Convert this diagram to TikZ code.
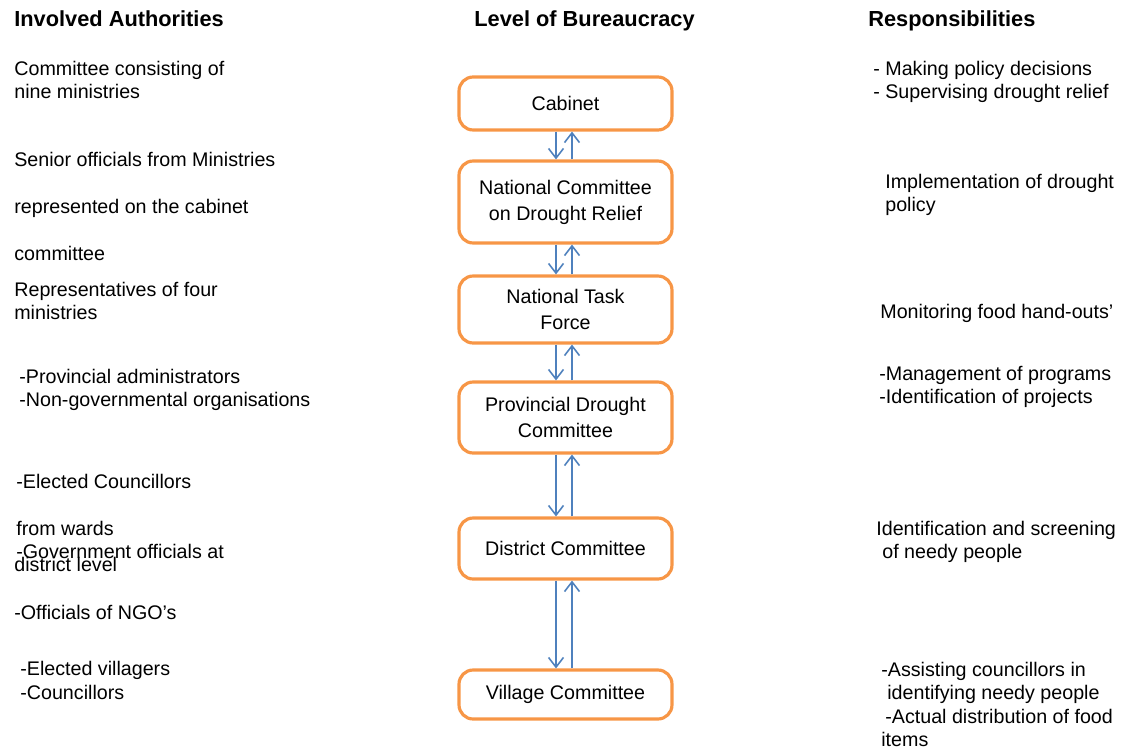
\documentclass[tikz,border=0pt]{standalone}
\usepackage{fontspec}
\setmainfont{Liberation Sans}
\usetikzlibrary{arrows.meta}
\definecolor{boxorange}{HTML}{F79646}
\definecolor{linkblue}{HTML}{4F81BD}
\begin{document}
\begin{tikzpicture}[x=0.02cm,y=-0.02cm,
  every node/.style={font=\fontsize{11.2pt}{13.2pt}\selectfont},
  head/.style={anchor=base west,inner sep=0pt,font=\fontsize{12.4pt}{14pt}\selectfont\bfseries},
  txt/.style={anchor=base west,inner sep=0pt},
  level/.style={draw=boxorange,line width=1.8pt,rounded corners=8pt,
    minimum width=4.26cm,align=center,
    font=\fontsize{11.2pt}{14.7pt}\selectfont},
  link/.style={draw=linkblue,line width=0.9pt,
    -{Straight Barb[length=5.5pt,width=8.5pt,line width=0.9pt]}}]
\useasboundingbox (0,0) rectangle (1122,750);

% column headings
\node[head] (hA) at (14,27) {Involved Authorities};
\node[head] (hB) at (474,27) {Level of Bureaucracy};
\node[head] (hC) at (868,27) {Responsibilities};

% levels of bureaucracy
\node[level,minimum height=1.06cm] (cab)  at (565.5,103.5) {Cabinet};
\node[level,minimum height=1.64cm] (ncdr) at (565.5,202)   {National Committee\\on Drought Relief};
\node[level,minimum height=1.34cm] (ntf)  at (565.5,309.5) {National Task\\Force};
\node[level,minimum height=1.42cm] (pdc)  at (565.5,417.5) {Provincial Drought\\Committee};
\node[level,minimum height=1.22cm] (dc)   at (565.5,548.5) {District Committee};
\node[level,minimum height=0.98cm] (vc)   at (565.5,694.5) {Village Committee};

% two-way links between consecutive levels
\foreach \u/\l in {cab/ncdr,ncdr/ntf,ntf/pdc,pdc/dc,dc/vc}{
  \draw[link] ([xshift=-0.19cm]\u.south) -- ([xshift=-0.19cm]\l.north);
  \draw[link] ([xshift=0.13cm]\l.north) -- ([xshift=0.13cm]\u.south);
}

% involved authorities
\node[txt] (a1) at (14,76)  {Committee consisting of};
\node[txt] (a2) at (14,99)  {nine ministries};
\node[txt] (a3) at (14,166) {Senior officials from Ministries};
\node[txt] (a4) at (14,213) {represented on the cabinet};
\node[txt] (a5) at (14,260) {committee};
\node[txt] (a6) at (14,296) {Representatives of four};
\node[txt] (a7) at (14,319) {ministries};
\node[txt] (a8) at (19,383) {-Provincial administrators};
\node[txt] (a9) at (19,406) {-Non-governmental organisations};
\node[txt] (a10) at (16,488) {-Elected Councillors};
\node[txt] (a11) at (16,535) {from wards};
\node[txt] (a12) at (16,558) {-Government officials at};
\node[txt] (a13) at (14,571) {district level};
\node[txt] (a14) at (14,619) {-Officials of NGO’s};
\node[txt] (a15) at (20,675) {-Elected villagers};
\node[txt] (a16) at (20,699) {-Councillors};

% responsibilities
\node[txt] (r1) at (873,76)  {- Making policy decisions};
\node[txt] (r2) at (873,99)  {- Supervising drought relief};
\node[txt] (r3) at (885,188) {Implementation of drought};
\node[txt] (r4) at (885,211) {policy};
\node[txt] (r5) at (880,318) {Monitoring food hand-outs’};
\node[txt] (r6) at (879,380) {-Management of programs};
\node[txt] (r7) at (879,403) {-Identification of projects};
\node[txt] (r8) at (876,535) {Identification and screening};
\node[txt] (r9) at (882,558) {of needy people};
\node[txt] (r10) at (881,676) {-Assisting councillors in};
\node[txt] (r11) at (887,699) {identifying needy people};
\node[txt] (r12) at (885,723) {-Actual distribution of food};
\node[txt] (r13) at (881,746) {items};
\end{tikzpicture}
\end{document}
